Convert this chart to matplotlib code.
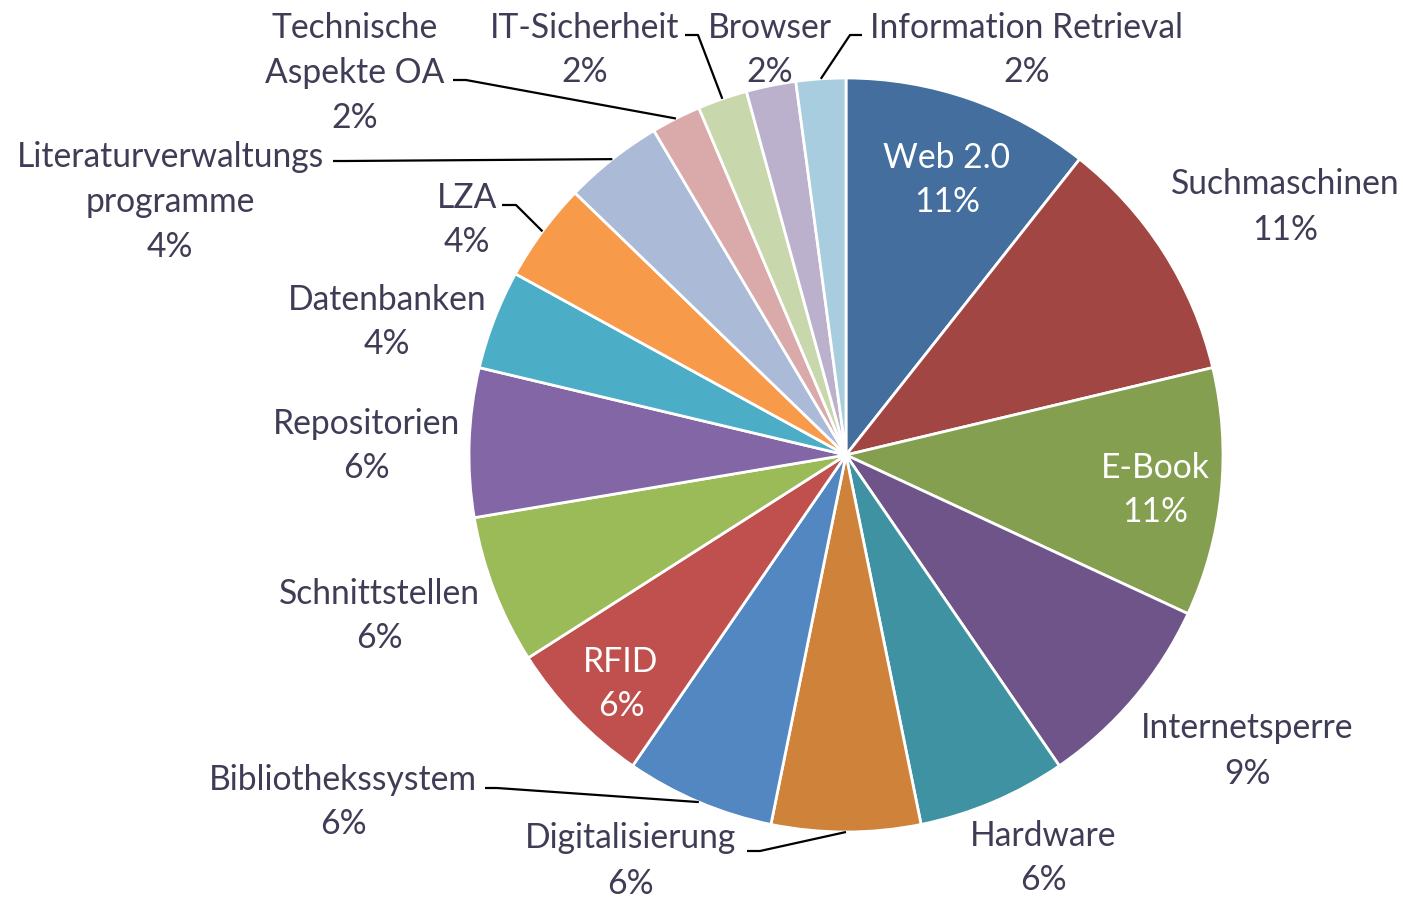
import numpy as np
import matplotlib.pyplot as plt

# Themen (Anzahl Nennungen, Summe 47), im Uhrzeigersinn ab 12 Uhr
themen = ['Web 2.0', 'Suchmaschinen', 'E-Book', 'Internetsperre', 'Hardware',
          'Digitalisierung', 'Bibliothekssystem', 'RFID', 'Schnittstellen',
          'Repositorien', 'Datenbanken', 'LZA', 'Literaturverwaltungs\nprogramme',
          'Technische\nAspekte OA', 'IT-Sicherheit', 'Browser', 'Information Retrieval']
anzahl = [5, 5, 5, 4, 3, 3, 3, 3, 3, 3, 2, 2, 2, 1, 1, 1, 1]
farben = ['#436E9E', '#A24643', '#839F4F', '#6E5489', '#3F92A2', '#CF833A',
          '#5287C1', '#C0504D', '#9BBB59', '#8266A5', '#4BADC6', '#F79A4A',
          '#AABAD7', '#D9AAA9', '#C9D8AC', '#BBB1CD', '#A8CDDF']

# Layout (Pixel, y von oben)
H = 900
cx, cy, r = 846, 455, 377
label_pos = [(947, 180), (1285, 207), (1155, 490), (1247, 751), (1043, 858),
             (630, 861), (343, 802), (621, 684), (379, 616), (366, 446),
             (387, 322), (467, 220), (170, 202), (355, 73), (585, 50),
             (770, 50), (1027, 50)]
weiss = {0, 2, 7}
leader = {5: [(747, 851), (760, 851)], 6: [(485, 788), (497, 788)],
          11: [(502, 205), (516, 205)], 12: [(333, 161), (345, 161)],
          13: [(453, 80), (466, 80)], 14: [(685, 35), (698, 35)],
          16: [(862, 35), (850, 35)]}

fig = plt.figure(figsize=(14.03, 9), dpi=100)
ax = fig.add_axes([0, 0, 1, 1])

ax.pie(anzahl, colors=farben, startangle=90, counterclock=False,
       center=(cx, H - cy), radius=r,
       wedgeprops=dict(edgecolor='white', linewidth=2))
ax.set_xlim(0, 1403)
ax.set_ylim(0, H)
ax.set_aspect('equal')
ax.axis('off')

total = sum(anzahl)
cum = np.cumsum(anzahl) - np.array(anzahl) / 2
for i, name in enumerate(themen):
    pct = round(100 * anzahl[i] / total)
    x, y = label_pos[i]
    col = 'white' if i in weiss else '#3F3D56'
    ax.text(x, H - y, f'{name}\n{pct}%', ha='center', va='center',
            fontsize=24.2, color=col, family='Lato', linespacing=1.5)
    if i in leader:
        theta = np.deg2rad(90 - 360 * cum[i] / total)
        ex, ey = cx + r * np.cos(theta), (H - cy) + r * np.sin(theta)
        pts = [(px, H - py) for px, py in leader[i]] + [(ex, ey)]
        xs, ys = zip(*pts)
        ax.plot(xs, ys, color='black', lw=1.6, solid_capstyle='butt')

fig.savefig('out.png', dpi=100, facecolor='white')
